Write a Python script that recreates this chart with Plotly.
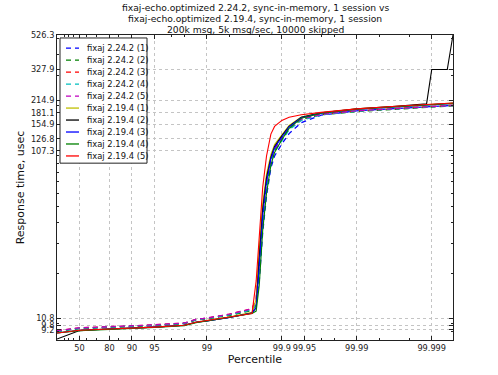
import numpy as np
import plotly.graph_objects as go

# ---- data ----
P = [0, 50, 80, 90, 95, 98, 98.6, 99, 99.5, 99.75, 99.78, 99.8, 99.82, 99.84, 99.86,
     99.875, 99.9, 99.92, 99.945, 99.97, 99.99, 99.997, 99.999, 99.99948]
P_BLACK = [0, 50, 80, 90, 95, 98, 98.6, 99, 99.5, 99.75, 99.78, 99.8, 99.82, 99.84, 99.86,
           99.875, 99.9, 99.92, 99.945, 99.97, 99.99, 99.997, 99.99883, 99.999, 99.99938, 99.99948]

NEW_1 = [9.0, 9.4, 9.55, 9.65, 9.8, 10.05, 10.6, 10.8, 11.3, 12.2, 13.5, 18, 35, 58, 85, 100, 118, 136, 158, 175, 186, 192, 197, 200]
NEW_2 = [9.0, 9.35, 9.5, 9.6, 9.75, 10.0, 10.5, 10.7, 11.2, 12.0, 13, 22, 42, 66, 92, 108, 126, 145, 165, 176, 184, 190, 196, 199]
NEW_3 = [9.1, 9.45, 9.6, 9.7, 9.85, 10.1, 10.6, 10.8, 11.4, 12.3, 14, 26, 48, 74, 98, 113, 131, 150, 168, 178, 186, 192, 198, 201]
NEW_4 = [9.0, 9.4, 9.55, 9.65, 9.8, 10.05, 10.55, 10.75, 11.3, 12.1, 13, 20, 40, 63, 90, 106, 124, 143, 163, 176, 185, 191, 197, 200]
NEW_5 = [9.1, 9.45, 9.6, 9.7, 9.85, 10.1, 10.6, 10.8, 11.4, 12.3, 14, 24, 45, 70, 95, 110, 128, 147, 166, 177, 186, 192, 197, 200]

OLD_1 = [8.8, 9.15, 9.3, 9.4, 9.55, 9.8, 10.2, 10.45, 10.95, 11.7, 14, 28, 52, 78, 102, 117, 134, 152, 171, 181, 191, 198, 204, 207]
OLD_2 = [8.1, 9.1, 9.3, 9.4, 9.55, 9.8, 10.2, 10.4, 10.9, 11.6, 12.5, 25, 48, 74, 98, 114, 132, 150, 170, 181, 191, 198, 205, 327.9, 327.9, 526.3]
OLD_3 = [8.8, 9.15, 9.3, 9.4, 9.55, 9.8, 10.2, 10.4, 10.9, 11.6, 12.5, 22, 44, 70, 96, 112, 130, 149, 169, 180, 190, 197, 203, 206]
OLD_4 = [8.8, 9.1, 9.25, 9.35, 9.5, 9.75, 10.15, 10.4, 10.9, 11.5, 11.9, 17, 36, 60, 88, 105, 125, 146, 168, 180, 190, 197, 203, 206]
OLD_5 = [8.8, 9.15, 9.3, 9.4, 9.55, 9.8, 10.2, 10.45, 10.95, 11.5, 18, 35, 65, 100, 135, 150, 163, 170, 176, 182, 191, 198, 204, 207]

X_TICKS = [50, 80, 90, 95, 99, 99.9, 99.95, 99.99, 99.999]
X_TICK_LABELS = ["50", "80", "90", "95", "99", "99.9", "99.95", "99.99", "99.999"]
X_MINOR = [20, 30, 40, 60, 70, 85, 97, 98, 99.5, 99.8, 99.97, 99.98, 99.995, 99.998]
Y_TICKS = [9.2, 9.8, 10.8, 107.3, 126.8, 154.9, 181.1, 214.9, 327.9, 526.3]
Y_MINOR = [9, 10, 20, 30, 40, 50, 60, 70, 80, 90, 100, 200, 300, 400, 500]
P_MAX = 99.99948

TITLE_LINES = ["fixaj-echo.optimized 2.24.2, sync-in-memory, 1 session vs",
               "fixaj-echo.optimized 2.19.4, sync-in-memory, 1 session",
               "200k msg, 5k msg/sec, 10000 skipped"]


def tx(p):
    """percentile -> 'number of nines' axis scale"""
    return -np.log10(1.0 - np.asarray(p, dtype=float) / 100.0)


series = [
    ("fixaj 2.24.2 (1)", P, NEW_1, "#0000ff", "dash"),
    ("fixaj 2.24.2 (2)", P, NEW_2, "#008000", "dash"),
    ("fixaj 2.24.2 (3)", P, NEW_3, "#ff0000", "dash"),
    ("fixaj 2.24.2 (4)", P, NEW_4, "#00bfbf", "dash"),
    ("fixaj 2.24.2 (5)", P, NEW_5, "#bf00bf", "dash"),
    ("fixaj 2.19.4 (1)", P, OLD_1, "#bfbf00", "solid"),
    ("fixaj 2.19.4 (2)", P_BLACK, OLD_2, "#000000", "solid"),
    ("fixaj 2.19.4 (3)", P, OLD_3, "#0000ff", "solid"),
    ("fixaj 2.19.4 (4)", P, OLD_4, "#008000", "solid"),
    ("fixaj 2.19.4 (5)", P, OLD_5, "#ff0000", "solid"),
]

DASH = "5px,4px"
font = "DejaVu Sans, Verdana, sans-serif"

fig = go.Figure()
for name, px, vals, color, dash in series:
    fig.add_trace(go.Scatter(
        x=tx(px), y=vals, name=name, mode="lines", showlegend=False,
        line=dict(color=color, width=1.3 if dash == "dash" else 1.1,
                  dash=DASH if dash == "dash" else "solid"),
    ))

# ---- compact legend box (matplotlib-like spacing) ----
W, H = 498, 375
ML, MR, MT, MB = 57, 45, 35, 33
PW, PH = W - ML - MR, H - MT - MB


def ppx(x):
    return (x - ML) / PW


def ppy(y):
    return 1 - (y - MT) / PH


shapes = [dict(type="rect", xref="paper", yref="paper", layer="above",
               x0=ppx(60), x1=ppx(147), y0=ppy(164), y1=ppy(38),
               fillcolor="white", line=dict(color="#222", width=1))]
annotations = []
for i, (name, _, _, color, dash) in enumerate(series):
    yc = 48.3 + 12.05 * i
    shapes.append(dict(type="line", xref="paper", yref="paper", layer="above",
                       x0=ppx(66), x1=ppx(79), y0=ppy(yc), y1=ppy(yc),
                       line=dict(color=color, width=1.3,
                                 dash=DASH if dash == "dash" else "solid")))
    annotations.append(dict(text=name, xref="paper", yref="paper",
                            x=ppx(85), y=ppy(yc), xanchor="left", yanchor="middle",
                            showarrow=False,
                            font=dict(family=font, size=8.4, color="#111")))

# title: three centred lines above the plot area
for j, line in enumerate(TITLE_LINES):
    annotations.append(dict(text=line, xref="paper", yref="paper", x=0.5,
                            y=ppy(7.5 + 11 * j), xanchor="center", yanchor="middle",
                            showarrow=False,
                            font=dict(family=font, size=9.2, color="#111")))

fig.update_layout(
    width=W, height=H,
    margin=dict(l=ML, r=MR, t=MT, b=MB),
    paper_bgcolor="white", plot_bgcolor="white",
    font=dict(family=font, size=8, color="#222"),
    showlegend=False,
    shapes=shapes,
    annotations=annotations,
    xaxis=dict(
        title=dict(text="Percentile", font=dict(family=font, size=11, color="#111"), standoff=2),
        range=[0, float(tx(P_MAX))],
        tickmode="array", tickvals=list(tx(X_TICKS)), ticktext=X_TICK_LABELS,
        tickangle=0,
        showgrid=True, gridcolor="#c4c4c4", griddash="dot", gridwidth=1,
        showline=True, linecolor="#222", linewidth=1, mirror="ticks",
        ticks="inside", ticklen=4, tickcolor="#222",
        minor=dict(tickmode="array", tickvals=list(tx(X_MINOR)), ticks="inside",
                   ticklen=2, tickcolor="#222", showgrid=False),
        zeroline=False,
        tickfont=dict(family=font, size=8.2, color="#222"),
    ),
    yaxis=dict(
        title=dict(text="Response time, usec", font=dict(family=font, size=11, color="#111"), standoff=4),
        type="log",
        range=[np.log10(8.0), np.log10(526.3)],
        tickmode="array", tickvals=Y_TICKS, ticktext=[str(v) for v in Y_TICKS],
        showgrid=True, gridcolor="#c4c4c4", griddash="dot", gridwidth=1,
        showline=True, linecolor="#222", linewidth=1, mirror="ticks",
        ticks="inside", ticklen=4, tickcolor="#222",
        minor=dict(tickmode="array", tickvals=Y_MINOR, ticks="inside",
                   ticklen=2, tickcolor="#222", showgrid=False),
        zeroline=False,
        tickfont=dict(family=font, size=8.2, color="#222"),
    ),
)

fig.write_html("out.html", config={"displayModeBar": False},
               post_script="document.body.style.margin='0';")
